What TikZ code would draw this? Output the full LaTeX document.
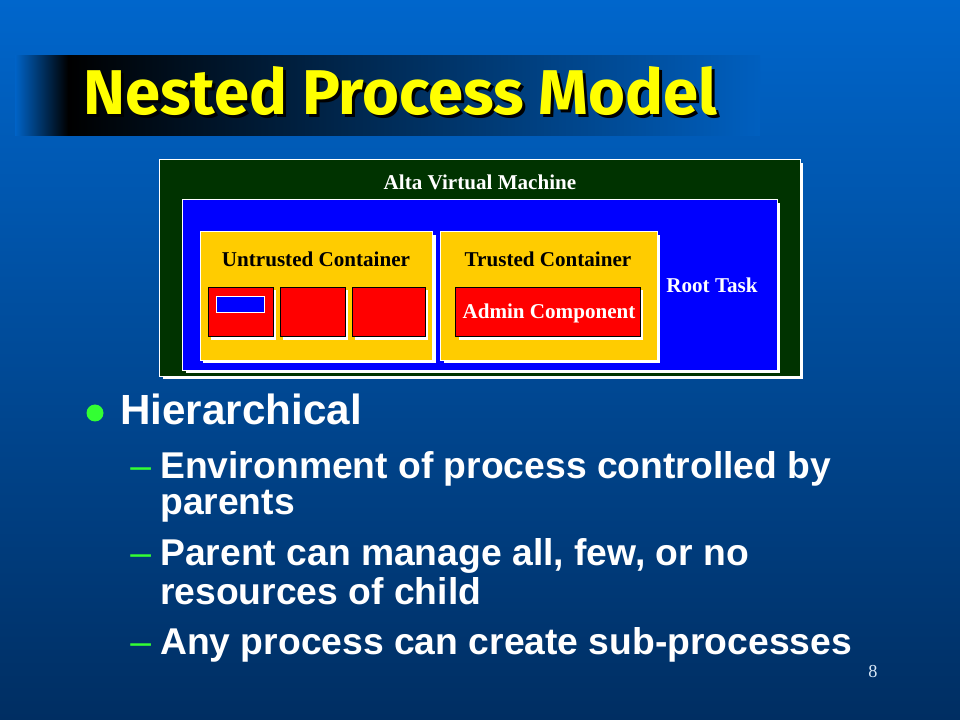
\documentclass[tikz,border=0pt]{standalone}
\usepackage{fontspec}
\setmainfont{Liberation Serif}
\newfontfamily\bulletfont{Liberation Sans}
\newfontfamily\titlefont{Fira Sans}
\usetikzlibrary{shadows,positioning}
\definecolor{bgtop}{RGB}{0,102,204}
\definecolor{bgbottom}{RGB}{0,46,98}
\definecolor{vmgreen}{RGB}{0,51,0}
\definecolor{taskblue}{RGB}{0,0,255}
\definecolor{contyellow}{RGB}{255,204,0}
\definecolor{compred}{RGB}{255,0,0}
\definecolor{dotgreen}{RGB}{51,255,51}
\definecolor{titleyellow}{RGB}{255,255,0}
\tikzstyle{whiteshadow} = [drop shadow={shadow xshift=0.075cm, shadow yshift=-0.075cm, fill=white, opacity=1}]
\tikzstyle{vmbox} = [rectangle, inner sep=0pt, draw=white, line width=0.7pt, fill=vmgreen, whiteshadow]
\tikzstyle{taskbox} = [rectangle, inner sep=0pt, draw=white, line width=0.7pt, fill=taskblue, whiteshadow]
\tikzstyle{container} = [rectangle, inner sep=0pt, draw=white, line width=0.7pt, fill=contyellow, whiteshadow]
\tikzstyle{component} = [rectangle, inner sep=0pt, draw=black, line width=0.7pt, fill=compred, whiteshadow, minimum height=1.225cm]
\tikzstyle{boxlabel} = [inner sep=0pt, font=\fontsize{15}{18}\selectfont\bfseries]
\tikzstyle{bullettext} = [anchor=base west, inner sep=0pt, text=white, font=\bulletfont\fontsize{26.5}{30}\selectfont\bfseries]
\tikzstyle{subdash} = [anchor=base west, inner sep=0pt, text=dotgreen, font=\bulletfont\fontsize{26.5}{30}\selectfont]

\begin{document}
\begin{tikzpicture}[x=0.025cm, y=-0.025cm]
\useasboundingbox (0,0) rectangle (960,720);
% Background
\shade[top color=bgtop, bottom color=bgbottom] (0,0) rectangle (960,720);
\shade[left color=bgtop!95!bgbottom, right color=black] (15,56) rectangle (68,136);
\shade[left color=black, right color=bgtop!88!bgbottom] (68,56) rectangle (760,136);

% Title
\node[anchor=base west, inner sep=0pt, text=black, font=\titlefont\bfseries] (titleshadow) at (86,118) {\resizebox{15.85cm}{1.2cm}{Nested Process Model}};
\node[anchor=base west, inner sep=0pt, text=titleyellow, font=\titlefont\bfseries] (title) at (83,115) {\resizebox{15.85cm}{1.2cm}{Nested Process Model}};

% Nested boxes
\node[vmbox, minimum width=16cm, minimum height=5.4cm] (vm) at (480,268) {};
\node[taskbox, minimum width=14.85cm, minimum height=4.25cm] (task) at (480,285) {};
\node[container, minimum width=5.8cm, minimum height=3.2cm] (untrusted) at (316.5,296) {};
\node[container, minimum width=5.4cm, minimum height=3.2cm] (trusted) at (549,296) {};

% Components
\node[component, minimum width=1.625cm] (compa) at (240.5,312) {};
\node[component, minimum width=1.625cm] (compb) at (312.5,312) {};
\node[component, minimum width=1.825cm] (compc) at (388.5,312) {};
\node[rectangle, inner sep=0pt, draw=white, line width=0.7pt, fill=taskblue, minimum width=1.2cm, minimum height=0.42cm] (subtask) at (240.5,304.5) {};
\node[component, minimum width=4.6cm] (admin) at (548,312) {};

% Labels
\node[boxlabel, text=white] (vmlabel) at (480,182) {Alta Virtual Machine};
\node[boxlabel, text=black] (untrustedlabel) at (316,259) {Untrusted Container};
\node[boxlabel, text=black] (trustedlabel) at (548,259) {Trusted Container};
\node[boxlabel, text=white] (adminlabel) at (549,313) {Admin Component};
\node[boxlabel, text=white] (tasklabel) at (712,285) {Root Task};

% Bullets
\fill[dotgreen] (95,413) circle (8.5);
\node[bullettext, font=\bulletfont\fontsize{30}{34}\selectfont\bfseries] (hier) at (120,425) {Hierarchical};
\node[subdash] (dasha) at (130,479) {\textendash};
\node[bullettext] (envir) at (160,479) {Environment of process controlled by};
\node[bullettext] (parents) at (160,515) {parents};
\node[subdash] (dashb) at (130,566) {\textendash};
\node[bullettext] (manage) at (160,566) {Parent can manage all, few, or no};
\node[bullettext] (resources) at (160,604) {resources of child};
\node[subdash] (dashc) at (130,654) {\textendash};
\node[bullettext] (create) at (160,654) {Any process can create sub-processes};

% Page number
\node[text=white!85!bgtop, font=\fontsize{13}{15}\selectfont] (pagenum) at (873,672) {8};
\end{tikzpicture}
\end{document}
